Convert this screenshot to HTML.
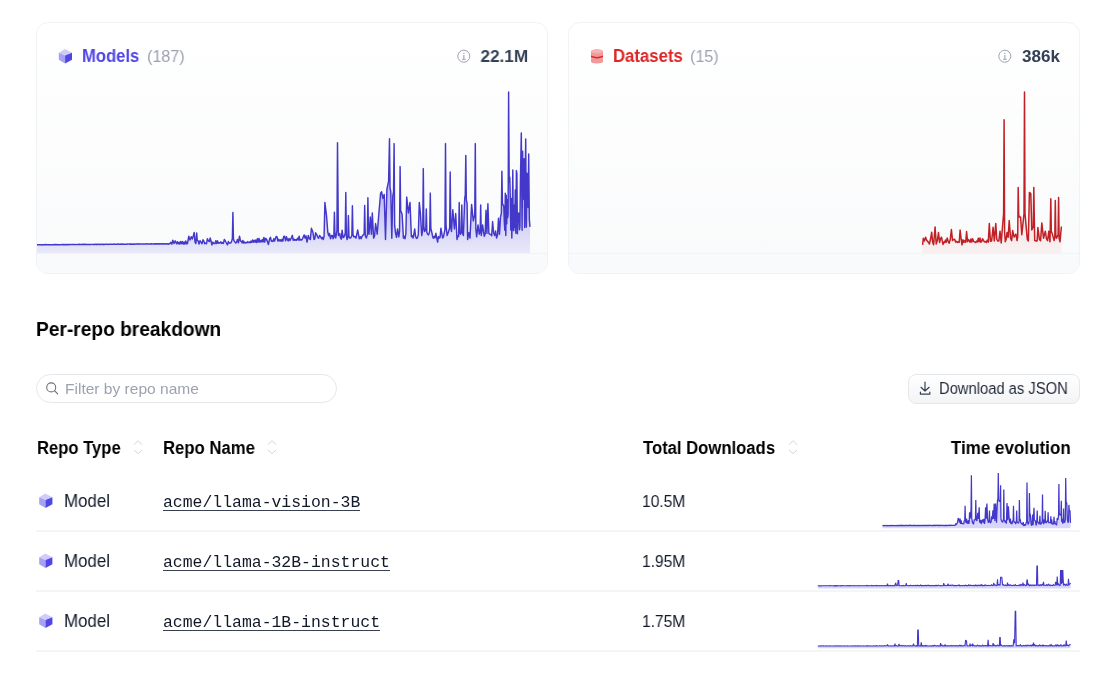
<!DOCTYPE html>
<html>
<head>
<meta charset="utf-8">
<style>
html,body{margin:0;padding:0;background:#fff;}
body{width:1120px;height:680px;position:relative;overflow:hidden;font-family:"Liberation Sans",sans-serif;color:#111827;}
.a{position:absolute;white-space:nowrap;line-height:1;will-change:transform;}
.card{position:absolute;top:22px;width:510px;height:250px;border:1px solid #f1f2f5;border-radius:12px;
 background:linear-gradient(180deg,#ffffff 0%,#f9fafb 100%);overflow:hidden;}
.strip{position:absolute;left:0;right:0;top:230px;bottom:0;border-top:1px solid #f2f3f5;background:#f9fafb;}
.b{font-weight:bold;}
.sep{position:absolute;left:36px;width:1044px;height:2px;background:#f4f5f5;}
.mono{font-family:"Liberation Mono",monospace;}
svg{position:absolute;left:0;top:0;overflow:visible;}
</style>
</head>
<body>

<!-- Models card -->
<div class="card" style="left:36px;">
  <div class="strip"></div>
</div>
<!-- Datasets card -->
<div class="card" style="left:568px;">
  <div class="strip"></div>
</div>

<svg width="1120" height="680" viewBox="0 0 1120 680">
  <defs>
    <linearGradient id="gm" x1="0" y1="90" x2="0" y2="253" gradientUnits="userSpaceOnUse">
      <stop offset="0" stop-color="#4f46e5" stop-opacity="0.8"/>
      <stop offset="1" stop-color="#4f46e5" stop-opacity="0.1"/>
    </linearGradient>
    <linearGradient id="gd" x1="0" y1="90" x2="0" y2="253" gradientUnits="userSpaceOnUse">
      <stop offset="0" stop-color="#dc2626" stop-opacity="0.22"/>
      <stop offset="1" stop-color="#dc2626" stop-opacity="0.05"/>
    </linearGradient>
    <linearGradient id="gr" x1="0" y1="0" x2="0" y2="1">
      <stop offset="0" stop-color="#4f46e5" stop-opacity="0.30"/>
      <stop offset="1" stop-color="#4f46e5" stop-opacity="0.22"/>
    </linearGradient>
  </defs>
  <path d="M37 244.8 L37.8 244.69 L38.6 244.92 L39.4 244.63 L40.2 244.95 L41.01 244.63 L41.81 244.93 L42.61 244.76 L43.41 244.84 L44.21 244.56 L45.01 244.86 L45.81 244.55 L46.61 244.75 L47.42 244.64 L48.22 244.76 L49.02 244.61 L49.82 244.81 L50.62 244.7 L51.42 244.73 L52.22 244.65 L53.02 244.84 L53.83 244.52 L54.63 244.7 L55.43 244.5 L56.23 244.68 L57.03 244.53 L57.83 244.67 L58.63 244.64 L59.43 244.79 L60.23 244.6 L61.04 244.66 L61.84 244.4 L62.64 244.76 L63.44 244.56 L64.24 244.77 L65.04 244.49 L65.84 244.71 L66.64 244.55 L67.45 244.74 L68.25 244.43 L69.05 244.73 L69.85 244.36 L70.65 244.6 L71.45 244.48 L72.25 244.56 L73.05 244.51 L73.86 244.53 L74.66 244.47 L75.46 244.62 L76.26 244.5 L77.06 244.62 L77.86 244.44 L78.66 244.54 L79.46 244.3 L80.27 244.56 L81.07 244.42 L81.87 244.55 L82.67 244.31 L83.47 244.46 L84.27 244.22 L85.07 244.44 L85.87 244.27 L86.67 244.58 L87.48 244.42 L88.28 244.56 L89.08 244.34 L89.88 244.51 L90.68 244.4 L91.48 244.4 L92.28 244.36 L93.08 244.55 L93.89 244.34 L94.69 244.5 L95.49 244.14 L96.29 244.52 L97.09 244.29 L97.89 244.41 L98.69 244.23 L99.49 244.47 L100.3 244.31 L101.1 244.45 L101.9 244.13 L102.7 244.46 L103.5 244.3 L104.3 244.46 L105.1 244.28 L105.9 244.34 L106.7 244.14 L107.51 244.44 L108.31 244.2 L109.11 244.42 L109.91 244.14 L110.71 244.3 L111.51 244.18 L112.31 244.27 L113.11 244.22 L113.92 244.25 L114.72 244.06 L115.52 244.39 L116.32 244.18 L117.12 244.21 L117.92 243.93 L118.72 244.28 L119.52 244.1 L120.33 244.22 L121.13 244.03 L121.93 244.31 L122.73 244.06 L123.53 244.23 L124.33 244.14 L125.13 244.3 L125.93 244.13 L126.73 244.21 L127.54 243.91 L128.34 244.14 L129.14 243.93 L129.94 244.27 L130.74 243.95 L131.54 244.23 L132.34 244.07 L133.14 244.16 L133.95 244.05 L134.75 244.22 L135.55 244 L136.35 244.13 L137.15 243.77 L137.95 244.19 L138.75 243.77 L139.55 244.11 L140.36 243.91 L141.16 244.15 L141.96 243.9 L142.76 244.06 L143.56 243.91 L144.36 244.02 L145.16 243.91 L145.96 244.16 L146.77 243.71 L147.57 244.08 L148.37 243.85 L149.17 244.02 L149.97 243.94 L150.77 243.99 L151.57 243.73 L152.37 244.09 L153.17 243.85 L153.98 244.06 L154.78 243.71 L155.58 244.03 L156.38 243.73 L157.18 244.03 L157.98 243.81 L158.78 244.01 L159.58 243.82 L160.39 243.96 L161.19 243.66 L161.99 243.98 L162.79 243.79 L163.59 244.02 L164.39 243.67 L165.19 243.94 L165.99 243.83 L166.8 243.92 L167.6 243.77 L168.4 244.22 L169.2 243.45 L170 243.7 L170.93 242.32 L171.87 244.16 L172.8 240.2 L174 243.5 L175.2 240.8 L176.5 243.8 L177.35 241.74 L178.19 243.89 L179.04 242.17 L179.88 244.1 L180.73 241.54 L181.58 243.84 L182.42 241.44 L183.27 244.13 L184.12 241.9 L184.96 244.17 L185.81 240.93 L186.65 243.87 L187.5 243.5 L188.8 236.2 L190 240 L191.3 236.7 L192.3 239 L193.4 235.4 L194.2 232.5 L195.03 242.13 L195.87 243.53 L196.7 233 L197.2 240.4 L198.13 240.96 L199.07 243.95 L200 240.8 L201 242.16 L202 243.76 L203 239.8 L203.88 241.23 L204.76 243.74 L205.64 242.96 L206.52 243.75 L207.4 238.7 L208.5 241 L209.35 241.6 L210.2 238 L211.05 241.23 L211.9 244.9 L212.93 242.08 L213.97 243.55 L215 243.5 L215.83 240.66 L216.67 243.52 L217.5 240.83 L218.33 243.13 L219.17 242.77 L220 243 L220.86 241.84 L221.72 243.45 L222.58 242.55 L223.44 243.45 L224.3 239.4 L225.37 240.99 L226.43 243.02 L227.5 244.9 L228.34 241.56 L229.18 243.09 L230.02 242.86 L230.86 243.01 L231.7 241 L232.35 238.71 L232.9 212.4 L233.45 238.71 L234.1 241 L234.93 242 L235.75 242.97 L236.57 242.39 L237.4 239.5 L238.45 242.77 L239.5 236.2 L240.5 241 L241.31 241.25 L242.11 242.92 L242.92 240.51 L243.73 242.96 L244.53 241.94 L245.34 243.07 L246.15 242.49 L246.95 242.69 L247.76 241.62 L248.56 242.61 L249.37 242.07 L250.18 242.78 L250.98 241.08 L251.79 242.22 L252.6 239.93 L253.4 242.18 L254.21 240.15 L255.02 242.24 L255.82 239.89 L256.63 242.53 L257.44 238.61 L258.24 242.13 L259.05 238.53 L259.85 242.18 L260.66 240.56 L261.47 241.8 L262.27 239.44 L263.08 241.97 L263.89 237.43 L264.69 242.13 L265.5 238.4 L266.47 239.13 L267.43 241.62 L268.4 244.6 L269.7 238.4 L270.51 237.36 L271.32 241.21 L272.14 240.92 L272.95 241.47 L273.76 238.66 L274.57 241.13 L275.39 238.49 L276.2 236.4 L277.03 236.94 L277.87 241.1 L278.7 239.28 L279.53 240.93 L280.37 239.81 L281.2 241.29 L282.03 239.33 L282.87 241.2 L283.7 236.4 L284.63 236.32 L285.57 240.84 L286.5 236.8 L287.33 239.57 L288.17 240.94 L289 238.37 L289.83 240.52 L290.67 239.13 L291.5 237.6 L292.35 235.37 L293.2 240.39 L294.05 239.09 L294.9 240.3 L295.75 239.65 L296.6 240.3 L297.45 238.16 L298.3 240.02 L299.15 236.18 L300 240.25 L300.85 239.69 L301.7 239.99 L302.55 238.7 L303.4 236.4 L304.2 234.96 L305 238.1 L306 235.85 L307 242.1 L308.3 235.5 L309.33 238.62 L310.37 239.57 L311.4 228.2 L312.9 232.2 L314 239.5 L314.8 238.89 L315.6 232.8 L316.6 234.38 L317.6 236.8 L318.6 238.26 L319.6 235.5 L320.6 236.62 L321.6 238.8 L322.43 237.31 L323.25 239.58 L324.07 236.59 L324.9 202.4 L326.5 215.6 L327.8 232.2 L328.65 235.7 L329.5 233.5 L330.5 238.76 L331.5 235.5 L332.3 235.54 L333.1 238.8 L333.85 236.68 L334.4 212.3 L334.95 236.04 L335.7 238.1 L336.95 230.48 L337.5 142.8 L338.4 235.5 L339.7 233.5 L340.5 237.86 L341.3 239.22 L342.1 230.2 L343.1 237.65 L344.1 236.8 L345.25 233.26 L345.8 192.5 L346.35 235.74 L347.1 239.5 L347.85 237.59 L348.4 215.6 L348.95 236.3 L349.8 238.1 L350.82 237.71 L351.85 235.51 L352.4 205.7 L352.95 234.31 L353.7 236.8 L354.85 236.48 L356 238.1 L357.7 230 L359.3 238.8 L360.2 236.74 L361.1 238.78 L362 236.2 L363.07 235.12 L364.15 233.74 L364.7 205.5 L365.25 235.49 L366.3 238.1 L367.35 234.87 L367.9 197.7 L368.45 231.28 L369 234.2 L370.3 217 L371.4 234.2 L372.3 213 L373.6 238.1 L374.6 235.87 L375.6 223.6 L377.2 234.2 L378.9 213 L380.6 193.1 L381.6 191.8 L382.9 198.4 L384.2 194.4 L385.5 239.5 L386.9 189.1 L388.6 181.2 L389.5 138.8 L390.05 187.56 L390.8 191.8 L391.8 238.21 L392.8 195.8 L393.55 191.62 L394.1 143.6 L394.65 225.66 L395.5 232.8 L396.5 237.37 L397.5 228.9 L398.8 236.8 L399.55 231.18 L400.1 166.6 L400.65 210.48 L402.1 214.3 L403.4 238.1 L404.22 236.29 L405.05 238.72 L405.88 233.66 L406.7 197.1 L408.4 213 L410 202.4 L411.4 236.8 L412.22 235.7 L413.05 238.11 L413.88 234.27 L414.7 228.9 L415.57 236.32 L416.43 238.42 L417.3 238.1 L418.3 234.66 L419.3 202.4 L420.4 213 L421.7 235.5 L422.75 230.15 L423.3 168.6 L423.85 226.47 L424.6 231.5 L425.75 229.7 L426.3 209 L426.85 232.18 L427.6 234.2 L428.68 234.93 L429.75 230.91 L430.3 193.1 L430.85 228.43 L431.6 231.5 L432.46 235.7 L433.31 238.32 L434.17 236.18 L435.03 237.96 L435.89 233.29 L436.74 237.8 L437.6 242.1 L438.43 236.51 L439.25 238.11 L440.07 237.43 L440.9 228.2 L441.77 233.21 L442.63 237.94 L443.5 236.8 L444.95 229.34 L445.5 143.6 L446.05 225.66 L447.12 235.55 L448.2 232.8 L449.65 227.93 L450.2 171.9 L450.75 226.73 L451.5 231.5 L452.8 209.7 L454.4 228.9 L455.7 213.6 L457 239.5 L457.82 236.01 L458.65 236.53 L459.2 202.4 L459.75 231.66 L460.5 234.2 L461.25 231.86 L461.8 205 L462.35 233.06 L463.4 235.5 L464.7 198.4 L465.25 194.97 L465.8 155.5 L466.35 199.84 L467.1 203.7 L467.6 239.5 L468.8 232.73 L470 238.1 L471.6 204.4 L473.3 220.9 L474.75 214.72 L475.3 143.6 L475.85 229.34 L476.7 236.8 L478 224.9 L479.3 234.2 L480.15 231.86 L480.7 205 L481.3 235.5 L482.6 224.9 L483.45 231.2 L484.3 236.28 L485.15 233.94 L486 210.3 L486.95 233.38 L487.9 203.7 L488.9 233.56 L489.9 234.2 L490.8 234.38 L491.7 235.77 L492.6 221.6 L493.6 232.66 L494.6 235.5 L495.6 230.99 L496.6 238.1 L497.55 235.09 L498.5 218.3 L499.5 234.27 L500.5 217 L501.35 213.34 L501.9 171.3 L502.45 203.59 L503.8 206.4 L504.3 221.43 L504.8 230.25 L505.3 193.16 L505.8 235.5 L506.27 195.18 L506.73 223.77 L507.2 199.7 L507.67 217.71 L508.13 214.12 L508.6 91.9 L509.2 182.19 L509.8 177.2 L510.3 198.84 L510.8 230 L511.3 198.54 L511.8 238.1 L512.3 214.94 L512.8 170 L513.27 229.79 L513.75 230.67 L514.23 205.28 L514.7 227.5 L515.27 190.09 L515.83 233.3 L516.4 170.6 L516.9 173.97 L517.4 233.83 L517.9 213.26 L518.4 222.3 L518.9 212.88 L519.4 229.85 L519.9 226.82 L520.4 182.5 L521.3 133 L522.1 230.2 L522.63 151.11 L523.17 199.16 L523.7 197 L524.2 158.77 L524.7 227.57 L525.2 178.95 L525.7 139 L526.35 227.12 L527 173.2 L527.57 201.58 L528.13 207.52 L528.7 154 L529.35 219.69 L530 226.9 L530 253 L37 253 Z" fill="url(#gm)"/>
  <path d="M37 244.8 L37.8 244.69 L38.6 244.92 L39.4 244.63 L40.2 244.95 L41.01 244.63 L41.81 244.93 L42.61 244.76 L43.41 244.84 L44.21 244.56 L45.01 244.86 L45.81 244.55 L46.61 244.75 L47.42 244.64 L48.22 244.76 L49.02 244.61 L49.82 244.81 L50.62 244.7 L51.42 244.73 L52.22 244.65 L53.02 244.84 L53.83 244.52 L54.63 244.7 L55.43 244.5 L56.23 244.68 L57.03 244.53 L57.83 244.67 L58.63 244.64 L59.43 244.79 L60.23 244.6 L61.04 244.66 L61.84 244.4 L62.64 244.76 L63.44 244.56 L64.24 244.77 L65.04 244.49 L65.84 244.71 L66.64 244.55 L67.45 244.74 L68.25 244.43 L69.05 244.73 L69.85 244.36 L70.65 244.6 L71.45 244.48 L72.25 244.56 L73.05 244.51 L73.86 244.53 L74.66 244.47 L75.46 244.62 L76.26 244.5 L77.06 244.62 L77.86 244.44 L78.66 244.54 L79.46 244.3 L80.27 244.56 L81.07 244.42 L81.87 244.55 L82.67 244.31 L83.47 244.46 L84.27 244.22 L85.07 244.44 L85.87 244.27 L86.67 244.58 L87.48 244.42 L88.28 244.56 L89.08 244.34 L89.88 244.51 L90.68 244.4 L91.48 244.4 L92.28 244.36 L93.08 244.55 L93.89 244.34 L94.69 244.5 L95.49 244.14 L96.29 244.52 L97.09 244.29 L97.89 244.41 L98.69 244.23 L99.49 244.47 L100.3 244.31 L101.1 244.45 L101.9 244.13 L102.7 244.46 L103.5 244.3 L104.3 244.46 L105.1 244.28 L105.9 244.34 L106.7 244.14 L107.51 244.44 L108.31 244.2 L109.11 244.42 L109.91 244.14 L110.71 244.3 L111.51 244.18 L112.31 244.27 L113.11 244.22 L113.92 244.25 L114.72 244.06 L115.52 244.39 L116.32 244.18 L117.12 244.21 L117.92 243.93 L118.72 244.28 L119.52 244.1 L120.33 244.22 L121.13 244.03 L121.93 244.31 L122.73 244.06 L123.53 244.23 L124.33 244.14 L125.13 244.3 L125.93 244.13 L126.73 244.21 L127.54 243.91 L128.34 244.14 L129.14 243.93 L129.94 244.27 L130.74 243.95 L131.54 244.23 L132.34 244.07 L133.14 244.16 L133.95 244.05 L134.75 244.22 L135.55 244 L136.35 244.13 L137.15 243.77 L137.95 244.19 L138.75 243.77 L139.55 244.11 L140.36 243.91 L141.16 244.15 L141.96 243.9 L142.76 244.06 L143.56 243.91 L144.36 244.02 L145.16 243.91 L145.96 244.16 L146.77 243.71 L147.57 244.08 L148.37 243.85 L149.17 244.02 L149.97 243.94 L150.77 243.99 L151.57 243.73 L152.37 244.09 L153.17 243.85 L153.98 244.06 L154.78 243.71 L155.58 244.03 L156.38 243.73 L157.18 244.03 L157.98 243.81 L158.78 244.01 L159.58 243.82 L160.39 243.96 L161.19 243.66 L161.99 243.98 L162.79 243.79 L163.59 244.02 L164.39 243.67 L165.19 243.94 L165.99 243.83 L166.8 243.92 L167.6 243.77 L168.4 244.22 L169.2 243.45 L170 243.7 L170.93 242.32 L171.87 244.16 L172.8 240.2 L174 243.5 L175.2 240.8 L176.5 243.8 L177.35 241.74 L178.19 243.89 L179.04 242.17 L179.88 244.1 L180.73 241.54 L181.58 243.84 L182.42 241.44 L183.27 244.13 L184.12 241.9 L184.96 244.17 L185.81 240.93 L186.65 243.87 L187.5 243.5 L188.8 236.2 L190 240 L191.3 236.7 L192.3 239 L193.4 235.4 L194.2 232.5 L195.03 242.13 L195.87 243.53 L196.7 233 L197.2 240.4 L198.13 240.96 L199.07 243.95 L200 240.8 L201 242.16 L202 243.76 L203 239.8 L203.88 241.23 L204.76 243.74 L205.64 242.96 L206.52 243.75 L207.4 238.7 L208.5 241 L209.35 241.6 L210.2 238 L211.05 241.23 L211.9 244.9 L212.93 242.08 L213.97 243.55 L215 243.5 L215.83 240.66 L216.67 243.52 L217.5 240.83 L218.33 243.13 L219.17 242.77 L220 243 L220.86 241.84 L221.72 243.45 L222.58 242.55 L223.44 243.45 L224.3 239.4 L225.37 240.99 L226.43 243.02 L227.5 244.9 L228.34 241.56 L229.18 243.09 L230.02 242.86 L230.86 243.01 L231.7 241 L232.35 238.71 L232.9 212.4 L233.45 238.71 L234.1 241 L234.93 242 L235.75 242.97 L236.57 242.39 L237.4 239.5 L238.45 242.77 L239.5 236.2 L240.5 241 L241.31 241.25 L242.11 242.92 L242.92 240.51 L243.73 242.96 L244.53 241.94 L245.34 243.07 L246.15 242.49 L246.95 242.69 L247.76 241.62 L248.56 242.61 L249.37 242.07 L250.18 242.78 L250.98 241.08 L251.79 242.22 L252.6 239.93 L253.4 242.18 L254.21 240.15 L255.02 242.24 L255.82 239.89 L256.63 242.53 L257.44 238.61 L258.24 242.13 L259.05 238.53 L259.85 242.18 L260.66 240.56 L261.47 241.8 L262.27 239.44 L263.08 241.97 L263.89 237.43 L264.69 242.13 L265.5 238.4 L266.47 239.13 L267.43 241.62 L268.4 244.6 L269.7 238.4 L270.51 237.36 L271.32 241.21 L272.14 240.92 L272.95 241.47 L273.76 238.66 L274.57 241.13 L275.39 238.49 L276.2 236.4 L277.03 236.94 L277.87 241.1 L278.7 239.28 L279.53 240.93 L280.37 239.81 L281.2 241.29 L282.03 239.33 L282.87 241.2 L283.7 236.4 L284.63 236.32 L285.57 240.84 L286.5 236.8 L287.33 239.57 L288.17 240.94 L289 238.37 L289.83 240.52 L290.67 239.13 L291.5 237.6 L292.35 235.37 L293.2 240.39 L294.05 239.09 L294.9 240.3 L295.75 239.65 L296.6 240.3 L297.45 238.16 L298.3 240.02 L299.15 236.18 L300 240.25 L300.85 239.69 L301.7 239.99 L302.55 238.7 L303.4 236.4 L304.2 234.96 L305 238.1 L306 235.85 L307 242.1 L308.3 235.5 L309.33 238.62 L310.37 239.57 L311.4 228.2 L312.9 232.2 L314 239.5 L314.8 238.89 L315.6 232.8 L316.6 234.38 L317.6 236.8 L318.6 238.26 L319.6 235.5 L320.6 236.62 L321.6 238.8 L322.43 237.31 L323.25 239.58 L324.07 236.59 L324.9 202.4 L326.5 215.6 L327.8 232.2 L328.65 235.7 L329.5 233.5 L330.5 238.76 L331.5 235.5 L332.3 235.54 L333.1 238.8 L333.85 236.68 L334.4 212.3 L334.95 236.04 L335.7 238.1 L336.95 230.48 L337.5 142.8 L338.4 235.5 L339.7 233.5 L340.5 237.86 L341.3 239.22 L342.1 230.2 L343.1 237.65 L344.1 236.8 L345.25 233.26 L345.8 192.5 L346.35 235.74 L347.1 239.5 L347.85 237.59 L348.4 215.6 L348.95 236.3 L349.8 238.1 L350.82 237.71 L351.85 235.51 L352.4 205.7 L352.95 234.31 L353.7 236.8 L354.85 236.48 L356 238.1 L357.7 230 L359.3 238.8 L360.2 236.74 L361.1 238.78 L362 236.2 L363.07 235.12 L364.15 233.74 L364.7 205.5 L365.25 235.49 L366.3 238.1 L367.35 234.87 L367.9 197.7 L368.45 231.28 L369 234.2 L370.3 217 L371.4 234.2 L372.3 213 L373.6 238.1 L374.6 235.87 L375.6 223.6 L377.2 234.2 L378.9 213 L380.6 193.1 L381.6 191.8 L382.9 198.4 L384.2 194.4 L385.5 239.5 L386.9 189.1 L388.6 181.2 L389.5 138.8 L390.05 187.56 L390.8 191.8 L391.8 238.21 L392.8 195.8 L393.55 191.62 L394.1 143.6 L394.65 225.66 L395.5 232.8 L396.5 237.37 L397.5 228.9 L398.8 236.8 L399.55 231.18 L400.1 166.6 L400.65 210.48 L402.1 214.3 L403.4 238.1 L404.22 236.29 L405.05 238.72 L405.88 233.66 L406.7 197.1 L408.4 213 L410 202.4 L411.4 236.8 L412.22 235.7 L413.05 238.11 L413.88 234.27 L414.7 228.9 L415.57 236.32 L416.43 238.42 L417.3 238.1 L418.3 234.66 L419.3 202.4 L420.4 213 L421.7 235.5 L422.75 230.15 L423.3 168.6 L423.85 226.47 L424.6 231.5 L425.75 229.7 L426.3 209 L426.85 232.18 L427.6 234.2 L428.68 234.93 L429.75 230.91 L430.3 193.1 L430.85 228.43 L431.6 231.5 L432.46 235.7 L433.31 238.32 L434.17 236.18 L435.03 237.96 L435.89 233.29 L436.74 237.8 L437.6 242.1 L438.43 236.51 L439.25 238.11 L440.07 237.43 L440.9 228.2 L441.77 233.21 L442.63 237.94 L443.5 236.8 L444.95 229.34 L445.5 143.6 L446.05 225.66 L447.12 235.55 L448.2 232.8 L449.65 227.93 L450.2 171.9 L450.75 226.73 L451.5 231.5 L452.8 209.7 L454.4 228.9 L455.7 213.6 L457 239.5 L457.82 236.01 L458.65 236.53 L459.2 202.4 L459.75 231.66 L460.5 234.2 L461.25 231.86 L461.8 205 L462.35 233.06 L463.4 235.5 L464.7 198.4 L465.25 194.97 L465.8 155.5 L466.35 199.84 L467.1 203.7 L467.6 239.5 L468.8 232.73 L470 238.1 L471.6 204.4 L473.3 220.9 L474.75 214.72 L475.3 143.6 L475.85 229.34 L476.7 236.8 L478 224.9 L479.3 234.2 L480.15 231.86 L480.7 205 L481.3 235.5 L482.6 224.9 L483.45 231.2 L484.3 236.28 L485.15 233.94 L486 210.3 L486.95 233.38 L487.9 203.7 L488.9 233.56 L489.9 234.2 L490.8 234.38 L491.7 235.77 L492.6 221.6 L493.6 232.66 L494.6 235.5 L495.6 230.99 L496.6 238.1 L497.55 235.09 L498.5 218.3 L499.5 234.27 L500.5 217 L501.35 213.34 L501.9 171.3 L502.45 203.59 L503.8 206.4 L504.3 221.43 L504.8 230.25 L505.3 193.16 L505.8 235.5 L506.27 195.18 L506.73 223.77 L507.2 199.7 L507.67 217.71 L508.13 214.12 L508.6 91.9 L509.2 182.19 L509.8 177.2 L510.3 198.84 L510.8 230 L511.3 198.54 L511.8 238.1 L512.3 214.94 L512.8 170 L513.27 229.79 L513.75 230.67 L514.23 205.28 L514.7 227.5 L515.27 190.09 L515.83 233.3 L516.4 170.6 L516.9 173.97 L517.4 233.83 L517.9 213.26 L518.4 222.3 L518.9 212.88 L519.4 229.85 L519.9 226.82 L520.4 182.5 L521.3 133 L522.1 230.2 L522.63 151.11 L523.17 199.16 L523.7 197 L524.2 158.77 L524.7 227.57 L525.2 178.95 L525.7 139 L526.35 227.12 L527 173.2 L527.57 201.58 L528.13 207.52 L528.7 154 L529.35 219.69 L530 226.9" fill="none" stroke="#4338ca" stroke-width="1.45" stroke-linejoin="round"/>
  <path d="M922.6 244.8 L923.3 238.3 L924.45 240.99 L925.6 237.2 L926.7 240.2 L927.6 241.3 L928.5 242.49 L929.4 244 L930.55 239.01 L931.7 232.2 L932.65 242.34 L933.6 244.8 L935.1 226.9 L936.2 244 L937.35 240.6 L938.5 232.6 L939.6 242.5 L940.55 238.64 L941.5 237.2 L943 244.4 L943.84 242.03 L944.68 242.51 L945.52 239.94 L946.36 242.18 L947.2 237.9 L948.15 240.94 L949.1 243.2 L950.25 239.44 L951.4 229.6 L952.55 240.56 L953.7 239.5 L954.65 239.25 L955.6 242.11 L956.55 241.35 L957.5 242.5 L958.37 241.74 L959.23 242.27 L960.1 230 L961.05 238.08 L962 244.8 L962.92 239.75 L963.84 242.37 L964.76 240.65 L965.68 242.32 L966.6 231.5 L967.55 241.63 L968.5 239.5 L969.32 240.95 L970.14 242.22 L970.96 238.93 L971.78 242.04 L972.6 238.7 L973.63 241.58 L974.67 241.91 L975.7 242.5 L976.55 241.14 L977.4 241.88 L978.25 238.35 L979.1 241.8 L979.95 237.9 L980.8 242.19 L981.65 241.55 L982.5 238.7 L983.45 240.37 L984.4 241.9 L985.35 241.56 L986.3 242.5 L987.3 240.1 L988.3 242.1 L989.3 223.5 L990.45 241.26 L991.6 241 L993.1 227.3 L994.3 241 L995.8 223.5 L996.75 239.11 L997.7 241 L998.85 241.11 L1000 231.2 L1001.2 243 L1002.9 221.8 L1003.6 213.63 L1004.1 119.7 L1004.6 232.03 L1005.3 241.8 L1006.2 239.04 L1007.1 232.4 L1008.15 237.27 L1009.2 220.6 L1010.6 238.2 L1011.65 240.64 L1012.7 230.6 L1014.1 237.1 L1015.9 234.1 L1017.1 240.6 L1017.7 236.36 L1018.2 187.6 L1018.7 214.74 L1019.4 217.1 L1020.6 217.1 L1021.8 234.7 L1022.9 224.1 L1024 213.52 L1024.5 91.9 L1025 213.52 L1025.9 224.1 L1027.3 239.4 L1028.35 240.97 L1029.4 192.4 L1030.8 193.5 L1031.8 230 L1033.3 226.61 L1033.8 187.6 L1034.7 240.6 L1035.5 240.69 L1036.3 241.19 L1037.1 240.83 L1037.9 227.6 L1039.4 239.4 L1040.6 240.61 L1041.8 222.9 L1043.5 238.2 L1045.3 231.2 L1046.45 238.75 L1047.6 240.6 L1048.8 231.2 L1050 241.8 L1050.8 198.8 L1051.3 231.28 L1052.4 234.1 L1054.1 240.6 L1054.8 237.4 L1055.3 200.6 L1055.8 235.19 L1056.5 238.2 L1058.1 234.95 L1058.6 197.6 L1059.1 238.26 L1060 241.8 L1061.4 226.5 L1061.4 253 L922.6 253 Z" fill="url(#gd)"/>
  <path d="M922.6 244.8 L923.3 238.3 L924.45 240.99 L925.6 237.2 L926.7 240.2 L927.6 241.3 L928.5 242.49 L929.4 244 L930.55 239.01 L931.7 232.2 L932.65 242.34 L933.6 244.8 L935.1 226.9 L936.2 244 L937.35 240.6 L938.5 232.6 L939.6 242.5 L940.55 238.64 L941.5 237.2 L943 244.4 L943.84 242.03 L944.68 242.51 L945.52 239.94 L946.36 242.18 L947.2 237.9 L948.15 240.94 L949.1 243.2 L950.25 239.44 L951.4 229.6 L952.55 240.56 L953.7 239.5 L954.65 239.25 L955.6 242.11 L956.55 241.35 L957.5 242.5 L958.37 241.74 L959.23 242.27 L960.1 230 L961.05 238.08 L962 244.8 L962.92 239.75 L963.84 242.37 L964.76 240.65 L965.68 242.32 L966.6 231.5 L967.55 241.63 L968.5 239.5 L969.32 240.95 L970.14 242.22 L970.96 238.93 L971.78 242.04 L972.6 238.7 L973.63 241.58 L974.67 241.91 L975.7 242.5 L976.55 241.14 L977.4 241.88 L978.25 238.35 L979.1 241.8 L979.95 237.9 L980.8 242.19 L981.65 241.55 L982.5 238.7 L983.45 240.37 L984.4 241.9 L985.35 241.56 L986.3 242.5 L987.3 240.1 L988.3 242.1 L989.3 223.5 L990.45 241.26 L991.6 241 L993.1 227.3 L994.3 241 L995.8 223.5 L996.75 239.11 L997.7 241 L998.85 241.11 L1000 231.2 L1001.2 243 L1002.9 221.8 L1003.6 213.63 L1004.1 119.7 L1004.6 232.03 L1005.3 241.8 L1006.2 239.04 L1007.1 232.4 L1008.15 237.27 L1009.2 220.6 L1010.6 238.2 L1011.65 240.64 L1012.7 230.6 L1014.1 237.1 L1015.9 234.1 L1017.1 240.6 L1017.7 236.36 L1018.2 187.6 L1018.7 214.74 L1019.4 217.1 L1020.6 217.1 L1021.8 234.7 L1022.9 224.1 L1024 213.52 L1024.5 91.9 L1025 213.52 L1025.9 224.1 L1027.3 239.4 L1028.35 240.97 L1029.4 192.4 L1030.8 193.5 L1031.8 230 L1033.3 226.61 L1033.8 187.6 L1034.7 240.6 L1035.5 240.69 L1036.3 241.19 L1037.1 240.83 L1037.9 227.6 L1039.4 239.4 L1040.6 240.61 L1041.8 222.9 L1043.5 238.2 L1045.3 231.2 L1046.45 238.75 L1047.6 240.6 L1048.8 231.2 L1050 241.8 L1050.8 198.8 L1051.3 231.28 L1052.4 234.1 L1054.1 240.6 L1054.8 237.4 L1055.3 200.6 L1055.8 235.19 L1056.5 238.2 L1058.1 234.95 L1058.6 197.6 L1059.1 238.26 L1060 241.8 L1061.4 226.5" fill="none" stroke="#c02126" stroke-width="1.5" stroke-linejoin="round"/>

  <path d="M882.5 525.4 L883 525.53 L883.5 525.7 L884 525.41 L884.5 525.68 L885 525.51 L885.5 525.7 L886 525.57 L886.5 525.68 L887 525.47 L887.5 525.73 L888 525.57 L888.5 525.64 L889 525.57 L889.5 525.73 L890 525.45 L890.5 525.58 L891 525.37 L891.5 525.75 L892 525.45 L892.5 525.68 L893 525.55 L893.5 525.57 L894 525.47 L894.5 525.58 L895 525.54 L895.5 525.61 L896 525.56 L896.5 525.64 L897 525.48 L897.5 525.71 L898 525.46 L898.5 525.67 L899 525.46 L899.5 525.67 L900 525.47 L900.5 525.6 L901 525.32 L901.5 525.73 L902 525.36 L902.5 525.67 L903 525.49 L903.5 525.58 L904 525.49 L904.5 525.55 L905 525.37 L905.5 525.61 L906 525.35 L906.5 525.6 L907 525.31 L907.5 525.68 L908 525.53 L908.5 525.57 L909 525.32 L909.5 525.61 L910 525.29 L910.5 525.59 L911 525.51 L911.5 525.63 L912 525.34 L912.5 525.56 L913 525.5 L913.5 525.57 L914 525.28 L914.5 525.65 L915 525.49 L915.5 525.55 L916 525.49 L916.5 525.52 L917 525.32 L917.5 525.53 L918 525.38 L918.5 525.58 L919 525.47 L919.5 525.63 L920 525.48 L920.5 525.61 L921 525.48 L921.5 525.57 L922 525.46 L922.5 525.54 L923 525.24 L923.5 525.63 L924 525.43 L924.5 525.64 L925 525.45 L925.5 525.55 L926 525.27 L926.5 525.59 L927 525.46 L927.5 525.65 L928 525.44 L928.5 525.52 L929 525.28 L929.5 525.53 L930 525.41 L930.5 525.48 L931 525.45 L931.5 525.57 L932 525.42 L932.5 525.57 L933 525.39 L933.5 525.54 L934 525.2 L934.5 525.54 L935 525.32 L935.5 525.61 L936 525.42 L936.5 525.48 L937 525.21 L937.5 525.6 L938 525.4 L938.5 525.48 L939 525.26 L939.5 525.61 L940 525.41 L940.5 525.61 L941 525.2 L941.5 525.55 L942 525.34 L942.5 525.45 L943 525.43 L943.5 525.6 L944 525.39 L944.5 525.56 L945 525.38 L945.5 525.57 L946 525.28 L946.5 525.48 L947 525.39 L947.5 525.55 L948 525.41 L948.5 525.46 L949 525.28 L949.5 525.57 L950 525.26 L950.5 525.46 L951 525.15 L951.5 525.45 L952 525.41 L952.5 525.46 L953 525.3 L953.5 525.41 L954 525.37 L954.5 525.47 L955 525.4 L955.63 523.96 L956.27 524.34 L956.9 523.6 L957.55 522.26 L958.2 518.1 L958.9 519.27 L959.6 522.7 L960.12 518.67 L960.63 523.99 L961.14 520.46 L961.66 523.95 L962.17 523.2 L962.69 523.62 L963.21 523.57 L963.72 524.15 L964.24 520.37 L964.75 521.35 L965.1 505.8 L965.45 521.35 L966.1 522.7 L966.6 518.68 L967.1 523.61 L967.6 520.72 L968.1 523.89 L968.6 520.14 L969.1 523.79 L969.6 512.2 L970.33 518.37 L971.05 509.25 L971.4 475.3 L971.75 518.08 L972.3 521.8 L972.93 523.42 L973.57 523.93 L974.2 520 L974.83 520.03 L975.45 518.39 L975.8 499.9 L976.15 519.22 L976.9 520.9 L977.8 512.7 L978.33 518.91 L978.85 512.26 L979.2 507.2 L979.55 521.46 L980.1 522.7 L980.7 519.96 L981.3 524.02 L981.9 520.9 L982.6 519.57 L983.3 522.7 L983.88 518.73 L984.45 523.81 L985.02 520.24 L985.6 507.2 L986.25 518.79 L986.9 503.6 L987.6 518.97 L988.3 522.7 L989.15 521.72 L989.5 510.4 L989.85 521.72 L990.6 522.7 L991.15 521.8 L991.7 516.3 L992.3 519.46 L992.9 510.4 L993.55 518.94 L994.2 503.6 L994.9 520.85 L995.6 503.6 L996.5 522.7 L997.4 500.8 L997.95 498.58 L998.3 473 L998.65 499.4 L999.5 501.7 L1000.25 500.39 L1000.6 485.3 L1000.95 518.88 L1001.48 520.46 L1002 521.8 L1002.72 521.94 L1003.45 519.21 L1003.8 489.4 L1004.15 520.04 L1004.67 520.71 L1005.2 522.7 L1005.8 520.53 L1006.4 523.65 L1007 503.1 L1007.7 520.31 L1008.4 506.3 L1009.1 517.74 L1009.8 522.7 L1010.36 518.57 L1010.92 524.04 L1011.47 521.86 L1012.03 524.04 L1012.59 520.65 L1013.15 521.35 L1013.5 505.8 L1013.85 521.35 L1014.4 522.7 L1015.05 521.53 L1015.7 524.1 L1016.35 521.72 L1016.7 510.4 L1017.05 521.72 L1018 522.7 L1018.52 523.36 L1019.05 520.88 L1019.4 499.9 L1019.75 520.88 L1020.27 519.39 L1020.8 522.7 L1021.45 523.54 L1022.1 523.6 L1022.6 525 L1023.2 522.02 L1023.8 525.49 L1024.4 525.4 L1024.96 524.27 L1025.53 525.61 L1026.09 522.68 L1026.65 521.98 L1027 482.6 L1027.35 521.15 L1028.2 524.5 L1029.05 521.99 L1029.4 493.1 L1029.75 512.79 L1030.3 514.5 L1030.88 521.82 L1031.45 525.72 L1032.02 524.09 L1032.6 514.5 L1033.12 525.14 L1033.65 513.96 L1034 507.7 L1034.35 519.84 L1035.3 520.9 L1035.82 523.81 L1036.33 525.55 L1036.85 520.06 L1037.2 510.4 L1037.55 521.72 L1038.5 522.7 L1039.03 524.33 L1039.55 522.16 L1039.9 515.9 L1040.25 522.98 L1040.78 524.48 L1041.3 523.6 L1042.15 521.26 L1042.5 494.4 L1042.85 521.72 L1043.6 524.1 L1044.22 519.37 L1044.85 523.04 L1045.2 510.8 L1045.55 521.75 L1046.3 522.7 L1047.03 521.27 L1047.75 521.86 L1048.1 512.2 L1048.45 521.86 L1048.97 522.8 L1049.5 522.7 L1050.45 522.19 L1050.8 516.3 L1051.15 523.84 L1051.67 519.34 L1052.2 524.5 L1052.93 523.51 L1053.65 523.88 L1054 516.8 L1054.35 523.52 L1054.88 521.11 L1055.4 524.1 L1056 524.24 L1056.6 525.32 L1057.2 518.1 L1057.88 519.94 L1058.55 515.37 L1058.9 484 L1059.25 512.89 L1060 515.4 L1060.95 514.23 L1061.3 500.8 L1061.65 521.78 L1062.17 518.94 L1062.7 523.6 L1063.25 522.4 L1063.6 508.6 L1063.95 521.57 L1064.7 522.7 L1065.35 519.12 L1065.7 478 L1066.05 501.55 L1066.8 503.6 L1067.4 519.14 L1068 522.7 L1068.55 521.28 L1068.9 504.9 L1069.25 510.33 L1070 510.8 L1070.5 522.7 L1070.5 528.3 L882.5 528.3 Z" fill="url(#gr)"/>
  <path d="M882.5 525.4 L883 525.53 L883.5 525.7 L884 525.41 L884.5 525.68 L885 525.51 L885.5 525.7 L886 525.57 L886.5 525.68 L887 525.47 L887.5 525.73 L888 525.57 L888.5 525.64 L889 525.57 L889.5 525.73 L890 525.45 L890.5 525.58 L891 525.37 L891.5 525.75 L892 525.45 L892.5 525.68 L893 525.55 L893.5 525.57 L894 525.47 L894.5 525.58 L895 525.54 L895.5 525.61 L896 525.56 L896.5 525.64 L897 525.48 L897.5 525.71 L898 525.46 L898.5 525.67 L899 525.46 L899.5 525.67 L900 525.47 L900.5 525.6 L901 525.32 L901.5 525.73 L902 525.36 L902.5 525.67 L903 525.49 L903.5 525.58 L904 525.49 L904.5 525.55 L905 525.37 L905.5 525.61 L906 525.35 L906.5 525.6 L907 525.31 L907.5 525.68 L908 525.53 L908.5 525.57 L909 525.32 L909.5 525.61 L910 525.29 L910.5 525.59 L911 525.51 L911.5 525.63 L912 525.34 L912.5 525.56 L913 525.5 L913.5 525.57 L914 525.28 L914.5 525.65 L915 525.49 L915.5 525.55 L916 525.49 L916.5 525.52 L917 525.32 L917.5 525.53 L918 525.38 L918.5 525.58 L919 525.47 L919.5 525.63 L920 525.48 L920.5 525.61 L921 525.48 L921.5 525.57 L922 525.46 L922.5 525.54 L923 525.24 L923.5 525.63 L924 525.43 L924.5 525.64 L925 525.45 L925.5 525.55 L926 525.27 L926.5 525.59 L927 525.46 L927.5 525.65 L928 525.44 L928.5 525.52 L929 525.28 L929.5 525.53 L930 525.41 L930.5 525.48 L931 525.45 L931.5 525.57 L932 525.42 L932.5 525.57 L933 525.39 L933.5 525.54 L934 525.2 L934.5 525.54 L935 525.32 L935.5 525.61 L936 525.42 L936.5 525.48 L937 525.21 L937.5 525.6 L938 525.4 L938.5 525.48 L939 525.26 L939.5 525.61 L940 525.41 L940.5 525.61 L941 525.2 L941.5 525.55 L942 525.34 L942.5 525.45 L943 525.43 L943.5 525.6 L944 525.39 L944.5 525.56 L945 525.38 L945.5 525.57 L946 525.28 L946.5 525.48 L947 525.39 L947.5 525.55 L948 525.41 L948.5 525.46 L949 525.28 L949.5 525.57 L950 525.26 L950.5 525.46 L951 525.15 L951.5 525.45 L952 525.41 L952.5 525.46 L953 525.3 L953.5 525.41 L954 525.37 L954.5 525.47 L955 525.4 L955.63 523.96 L956.27 524.34 L956.9 523.6 L957.55 522.26 L958.2 518.1 L958.9 519.27 L959.6 522.7 L960.12 518.67 L960.63 523.99 L961.14 520.46 L961.66 523.95 L962.17 523.2 L962.69 523.62 L963.21 523.57 L963.72 524.15 L964.24 520.37 L964.75 521.35 L965.1 505.8 L965.45 521.35 L966.1 522.7 L966.6 518.68 L967.1 523.61 L967.6 520.72 L968.1 523.89 L968.6 520.14 L969.1 523.79 L969.6 512.2 L970.33 518.37 L971.05 509.25 L971.4 475.3 L971.75 518.08 L972.3 521.8 L972.93 523.42 L973.57 523.93 L974.2 520 L974.83 520.03 L975.45 518.39 L975.8 499.9 L976.15 519.22 L976.9 520.9 L977.8 512.7 L978.33 518.91 L978.85 512.26 L979.2 507.2 L979.55 521.46 L980.1 522.7 L980.7 519.96 L981.3 524.02 L981.9 520.9 L982.6 519.57 L983.3 522.7 L983.88 518.73 L984.45 523.81 L985.02 520.24 L985.6 507.2 L986.25 518.79 L986.9 503.6 L987.6 518.97 L988.3 522.7 L989.15 521.72 L989.5 510.4 L989.85 521.72 L990.6 522.7 L991.15 521.8 L991.7 516.3 L992.3 519.46 L992.9 510.4 L993.55 518.94 L994.2 503.6 L994.9 520.85 L995.6 503.6 L996.5 522.7 L997.4 500.8 L997.95 498.58 L998.3 473 L998.65 499.4 L999.5 501.7 L1000.25 500.39 L1000.6 485.3 L1000.95 518.88 L1001.48 520.46 L1002 521.8 L1002.72 521.94 L1003.45 519.21 L1003.8 489.4 L1004.15 520.04 L1004.67 520.71 L1005.2 522.7 L1005.8 520.53 L1006.4 523.65 L1007 503.1 L1007.7 520.31 L1008.4 506.3 L1009.1 517.74 L1009.8 522.7 L1010.36 518.57 L1010.92 524.04 L1011.47 521.86 L1012.03 524.04 L1012.59 520.65 L1013.15 521.35 L1013.5 505.8 L1013.85 521.35 L1014.4 522.7 L1015.05 521.53 L1015.7 524.1 L1016.35 521.72 L1016.7 510.4 L1017.05 521.72 L1018 522.7 L1018.52 523.36 L1019.05 520.88 L1019.4 499.9 L1019.75 520.88 L1020.27 519.39 L1020.8 522.7 L1021.45 523.54 L1022.1 523.6 L1022.6 525 L1023.2 522.02 L1023.8 525.49 L1024.4 525.4 L1024.96 524.27 L1025.53 525.61 L1026.09 522.68 L1026.65 521.98 L1027 482.6 L1027.35 521.15 L1028.2 524.5 L1029.05 521.99 L1029.4 493.1 L1029.75 512.79 L1030.3 514.5 L1030.88 521.82 L1031.45 525.72 L1032.02 524.09 L1032.6 514.5 L1033.12 525.14 L1033.65 513.96 L1034 507.7 L1034.35 519.84 L1035.3 520.9 L1035.82 523.81 L1036.33 525.55 L1036.85 520.06 L1037.2 510.4 L1037.55 521.72 L1038.5 522.7 L1039.03 524.33 L1039.55 522.16 L1039.9 515.9 L1040.25 522.98 L1040.78 524.48 L1041.3 523.6 L1042.15 521.26 L1042.5 494.4 L1042.85 521.72 L1043.6 524.1 L1044.22 519.37 L1044.85 523.04 L1045.2 510.8 L1045.55 521.75 L1046.3 522.7 L1047.03 521.27 L1047.75 521.86 L1048.1 512.2 L1048.45 521.86 L1048.97 522.8 L1049.5 522.7 L1050.45 522.19 L1050.8 516.3 L1051.15 523.84 L1051.67 519.34 L1052.2 524.5 L1052.93 523.51 L1053.65 523.88 L1054 516.8 L1054.35 523.52 L1054.88 521.11 L1055.4 524.1 L1056 524.24 L1056.6 525.32 L1057.2 518.1 L1057.88 519.94 L1058.55 515.37 L1058.9 484 L1059.25 512.89 L1060 515.4 L1060.95 514.23 L1061.3 500.8 L1061.65 521.78 L1062.17 518.94 L1062.7 523.6 L1063.25 522.4 L1063.6 508.6 L1063.95 521.57 L1064.7 522.7 L1065.35 519.12 L1065.7 478 L1066.05 501.55 L1066.8 503.6 L1067.4 519.14 L1068 522.7 L1068.55 521.28 L1068.9 504.9 L1069.25 510.33 L1070 510.8 L1070.5 522.7" fill="none" stroke="#4338ca" stroke-width="1.25" stroke-linejoin="miter" stroke-miterlimit="2"/>
  <path d="M817.8 585.8 L818.6 585.78 L819.41 585.84 L820.21 585.73 L821.02 585.85 L821.82 585.78 L822.63 585.81 L823.43 585.78 L824.24 585.8 L825.04 585.7 L825.85 585.8 L826.65 585.72 L827.46 585.8 L828.26 585.75 L829.07 585.81 L829.87 585.66 L830.67 585.82 L831.48 585.78 L832.28 585.79 L833.09 585.76 L833.89 585.83 L834.7 585.64 L835.5 585.82 L836.31 585.62 L837.11 585.81 L837.92 585.58 L838.72 585.81 L839.53 585.73 L840.33 585.82 L841.13 585.68 L841.94 585.81 L842.74 585.66 L843.55 585.79 L844.35 585.7 L845.16 585.78 L845.96 585.7 L846.77 585.76 L847.57 585.56 L848.38 585.8 L849.18 585.5 L849.99 585.79 L850.79 585.63 L851.6 585.79 L852.4 585.73 L853.2 585.78 L854.01 585.65 L854.81 585.75 L855.62 585.7 L856.42 585.77 L857.23 585.69 L858.03 585.76 L858.84 585.58 L859.64 585.76 L860.45 585.71 L861.25 585.76 L862.06 585.68 L862.86 585.74 L863.67 585.69 L864.47 585.75 L865.27 585.71 L866.08 585.76 L866.88 585.41 L867.69 585.74 L868.49 585.5 L869.3 585.77 L870.1 585.71 L870.91 585.72 L871.71 585.44 L872.52 585.76 L873.32 585.51 L874.13 585.72 L874.93 585.59 L875.73 585.76 L876.54 585.38 L877.34 585.75 L878.15 585.66 L878.95 585.75 L879.76 585.59 L880.56 585.74 L881.37 585.67 L882.17 585.76 L882.98 585.48 L883.78 585.74 L884.59 585.64 L885.39 585.73 L886.2 585.48 L887 585.6 L887.5 583.75 L888 585.6 L888.89 585.46 L889.77 585.71 L890.66 585.38 L891.55 585.7 L892.44 585.59 L893.33 585.69 L894.21 585.39 L895.1 585.6 L895.6 582.75 L896.5 585.5 L897.7 585.5 L898.1 580.6 L898.7 580.6 L899.1 585.5 L899.94 585.64 L900.77 585.71 L901.61 585.65 L902.45 585.79 L903.29 585.42 L904.12 585.77 L904.96 585.65 L905.8 585.5 L906.25 583 L906.7 585.5 L907.51 585.47 L908.33 585.73 L909.14 585.63 L909.95 585.66 L910.77 585.08 L911.58 585.68 L912.39 585.53 L913.21 585.7 L914.02 585.34 L914.83 585.66 L915.65 585.42 L916.46 585.72 L917.27 585.16 L918.09 585.64 L918.9 585.49 L919.71 585.74 L920.53 585.03 L921.34 585.74 L922.15 585.39 L922.97 585.77 L923.78 585.5 L924.59 585.64 L925.41 585.36 L926.22 585.81 L927.03 585.18 L927.85 585.68 L928.66 585.21 L929.47 585.79 L930.29 585.5 L931.1 585.74 L931.91 585.44 L932.73 585.67 L933.54 585.48 L934.35 585.66 L935.17 585.43 L935.98 585.62 L936.79 585.39 L937.61 585.63 L938.42 585.1 L939.23 585.73 L940.05 585.61 L940.86 585.76 L941.67 585.52 L942.49 585.7 L943.3 585.5 L943.75 583 L944.3 585.5 L945.1 585.24 L945.9 585.66 L946.7 585.44 L947.5 585.5 L948 583.75 L948.5 585.5 L949.31 585.32 L950.13 585.62 L950.94 584.92 L951.75 585.61 L952.56 584.95 L953.38 585.63 L954.19 585.41 L955 585.66 L955.81 585.57 L956.63 585.61 L957.44 585.35 L958.25 585.67 L959.07 584.86 L959.88 585.77 L960.69 585.56 L961.5 585.68 L962.32 585.51 L963.13 585.73 L963.94 585.37 L964.75 585.75 L965.57 585.16 L966.38 585.59 L967.19 585.56 L968.01 585.61 L968.82 584.8 L969.63 585.59 L970.44 585.21 L971.26 585.63 L972.07 585.32 L972.88 585.72 L973.69 585.43 L974.51 585.7 L975.32 584.99 L976.13 585.74 L976.95 585.14 L977.76 585.73 L978.57 585.21 L979.38 585.66 L980.2 585.02 L981.01 585.71 L981.82 584.68 L982.63 585.56 L983.45 585.46 L984.26 585.64 L985.07 584.77 L985.89 585.64 L986.7 585.32 L987.51 585.72 L988.32 585.32 L989.14 585.55 L989.95 585.51 L990.76 585.53 L991.57 584.84 L992.39 585.55 L993.2 585.3 L993.75 583 L994.3 585.3 L995.2 584.83 L996.1 585.69 L997 585.3 L997.5 579.4 L998 585.3 L999.05 584.43 L1000.1 585.3 L1000.6 577.25 L1001.8 577.25 L1002.25 581.25 L1002.7 585.3 L1003.56 584.66 L1004.42 585.59 L1005.28 584.9 L1006.14 585.67 L1007 585.3 L1007.5 582.5 L1008 585.3 L1008.81 584.76 L1009.61 585.56 L1010.42 584.69 L1011.22 585.52 L1012.03 585.24 L1012.83 585.69 L1013.64 585.05 L1014.44 585.54 L1015.25 584.63 L1016.06 585.58 L1016.86 585.48 L1017.67 585.49 L1018.47 585.28 L1019.28 585.55 L1020.08 584.37 L1020.89 585.53 L1021.69 584.49 L1022.5 585.3 L1023 582.5 L1023.5 585.3 L1024.5 584.47 L1025.5 585.56 L1026.5 585.3 L1026.9 580 L1027.4 580 L1027.8 585.3 L1028.67 584.22 L1029.54 585.62 L1030.41 584.97 L1031.28 585.52 L1032.15 584.99 L1033.02 585.64 L1033.89 584.89 L1034.76 585.5 L1035.63 585.09 L1036.5 585.3 L1036.9 566 L1037.4 566 L1037.8 585.3 L1038.67 584.95 L1039.53 585.49 L1040.4 584.81 L1041.27 585.45 L1042.13 584.41 L1043 585.3 L1043.5 581.9 L1044 585.3 L1044.85 585.3 L1045.71 585.46 L1046.56 584.76 L1047.42 585.5 L1048.27 584.27 L1049.12 585.53 L1049.98 584.84 L1050.83 585.6 L1051.68 585.24 L1052.54 585.58 L1053.39 584.63 L1054.25 585.51 L1055.1 585.3 L1055.6 581.9 L1056.7 585.3 L1057.25 576.5 L1057.8 585.3 L1058.6 584.07 L1059.4 585.42 L1060.2 585.3 L1060.6 570 L1060.88 579 L1061.16 570.5 L1061.44 584 L1061.72 570 L1062 581 L1062.28 571 L1062.56 583 L1062.84 570 L1063.12 578 L1063.5 585.3 L1064.4 584.2 L1065.3 585.44 L1066.2 584.23 L1067.1 585.44 L1068 585.3 L1068.5 578.75 L1069 585 L1070.6 583 L1070.6 588.5 L817.8 588.5 Z" fill="url(#gr)"/>
  <path d="M817.8 585.8 L818.6 585.78 L819.41 585.84 L820.21 585.73 L821.02 585.85 L821.82 585.78 L822.63 585.81 L823.43 585.78 L824.24 585.8 L825.04 585.7 L825.85 585.8 L826.65 585.72 L827.46 585.8 L828.26 585.75 L829.07 585.81 L829.87 585.66 L830.67 585.82 L831.48 585.78 L832.28 585.79 L833.09 585.76 L833.89 585.83 L834.7 585.64 L835.5 585.82 L836.31 585.62 L837.11 585.81 L837.92 585.58 L838.72 585.81 L839.53 585.73 L840.33 585.82 L841.13 585.68 L841.94 585.81 L842.74 585.66 L843.55 585.79 L844.35 585.7 L845.16 585.78 L845.96 585.7 L846.77 585.76 L847.57 585.56 L848.38 585.8 L849.18 585.5 L849.99 585.79 L850.79 585.63 L851.6 585.79 L852.4 585.73 L853.2 585.78 L854.01 585.65 L854.81 585.75 L855.62 585.7 L856.42 585.77 L857.23 585.69 L858.03 585.76 L858.84 585.58 L859.64 585.76 L860.45 585.71 L861.25 585.76 L862.06 585.68 L862.86 585.74 L863.67 585.69 L864.47 585.75 L865.27 585.71 L866.08 585.76 L866.88 585.41 L867.69 585.74 L868.49 585.5 L869.3 585.77 L870.1 585.71 L870.91 585.72 L871.71 585.44 L872.52 585.76 L873.32 585.51 L874.13 585.72 L874.93 585.59 L875.73 585.76 L876.54 585.38 L877.34 585.75 L878.15 585.66 L878.95 585.75 L879.76 585.59 L880.56 585.74 L881.37 585.67 L882.17 585.76 L882.98 585.48 L883.78 585.74 L884.59 585.64 L885.39 585.73 L886.2 585.48 L887 585.6 L887.5 583.75 L888 585.6 L888.89 585.46 L889.77 585.71 L890.66 585.38 L891.55 585.7 L892.44 585.59 L893.33 585.69 L894.21 585.39 L895.1 585.6 L895.6 582.75 L896.5 585.5 L897.7 585.5 L898.1 580.6 L898.7 580.6 L899.1 585.5 L899.94 585.64 L900.77 585.71 L901.61 585.65 L902.45 585.79 L903.29 585.42 L904.12 585.77 L904.96 585.65 L905.8 585.5 L906.25 583 L906.7 585.5 L907.51 585.47 L908.33 585.73 L909.14 585.63 L909.95 585.66 L910.77 585.08 L911.58 585.68 L912.39 585.53 L913.21 585.7 L914.02 585.34 L914.83 585.66 L915.65 585.42 L916.46 585.72 L917.27 585.16 L918.09 585.64 L918.9 585.49 L919.71 585.74 L920.53 585.03 L921.34 585.74 L922.15 585.39 L922.97 585.77 L923.78 585.5 L924.59 585.64 L925.41 585.36 L926.22 585.81 L927.03 585.18 L927.85 585.68 L928.66 585.21 L929.47 585.79 L930.29 585.5 L931.1 585.74 L931.91 585.44 L932.73 585.67 L933.54 585.48 L934.35 585.66 L935.17 585.43 L935.98 585.62 L936.79 585.39 L937.61 585.63 L938.42 585.1 L939.23 585.73 L940.05 585.61 L940.86 585.76 L941.67 585.52 L942.49 585.7 L943.3 585.5 L943.75 583 L944.3 585.5 L945.1 585.24 L945.9 585.66 L946.7 585.44 L947.5 585.5 L948 583.75 L948.5 585.5 L949.31 585.32 L950.13 585.62 L950.94 584.92 L951.75 585.61 L952.56 584.95 L953.38 585.63 L954.19 585.41 L955 585.66 L955.81 585.57 L956.63 585.61 L957.44 585.35 L958.25 585.67 L959.07 584.86 L959.88 585.77 L960.69 585.56 L961.5 585.68 L962.32 585.51 L963.13 585.73 L963.94 585.37 L964.75 585.75 L965.57 585.16 L966.38 585.59 L967.19 585.56 L968.01 585.61 L968.82 584.8 L969.63 585.59 L970.44 585.21 L971.26 585.63 L972.07 585.32 L972.88 585.72 L973.69 585.43 L974.51 585.7 L975.32 584.99 L976.13 585.74 L976.95 585.14 L977.76 585.73 L978.57 585.21 L979.38 585.66 L980.2 585.02 L981.01 585.71 L981.82 584.68 L982.63 585.56 L983.45 585.46 L984.26 585.64 L985.07 584.77 L985.89 585.64 L986.7 585.32 L987.51 585.72 L988.32 585.32 L989.14 585.55 L989.95 585.51 L990.76 585.53 L991.57 584.84 L992.39 585.55 L993.2 585.3 L993.75 583 L994.3 585.3 L995.2 584.83 L996.1 585.69 L997 585.3 L997.5 579.4 L998 585.3 L999.05 584.43 L1000.1 585.3 L1000.6 577.25 L1001.8 577.25 L1002.25 581.25 L1002.7 585.3 L1003.56 584.66 L1004.42 585.59 L1005.28 584.9 L1006.14 585.67 L1007 585.3 L1007.5 582.5 L1008 585.3 L1008.81 584.76 L1009.61 585.56 L1010.42 584.69 L1011.22 585.52 L1012.03 585.24 L1012.83 585.69 L1013.64 585.05 L1014.44 585.54 L1015.25 584.63 L1016.06 585.58 L1016.86 585.48 L1017.67 585.49 L1018.47 585.28 L1019.28 585.55 L1020.08 584.37 L1020.89 585.53 L1021.69 584.49 L1022.5 585.3 L1023 582.5 L1023.5 585.3 L1024.5 584.47 L1025.5 585.56 L1026.5 585.3 L1026.9 580 L1027.4 580 L1027.8 585.3 L1028.67 584.22 L1029.54 585.62 L1030.41 584.97 L1031.28 585.52 L1032.15 584.99 L1033.02 585.64 L1033.89 584.89 L1034.76 585.5 L1035.63 585.09 L1036.5 585.3 L1036.9 566 L1037.4 566 L1037.8 585.3 L1038.67 584.95 L1039.53 585.49 L1040.4 584.81 L1041.27 585.45 L1042.13 584.41 L1043 585.3 L1043.5 581.9 L1044 585.3 L1044.85 585.3 L1045.71 585.46 L1046.56 584.76 L1047.42 585.5 L1048.27 584.27 L1049.12 585.53 L1049.98 584.84 L1050.83 585.6 L1051.68 585.24 L1052.54 585.58 L1053.39 584.63 L1054.25 585.51 L1055.1 585.3 L1055.6 581.9 L1056.7 585.3 L1057.25 576.5 L1057.8 585.3 L1058.6 584.07 L1059.4 585.42 L1060.2 585.3 L1060.6 570 L1060.88 579 L1061.16 570.5 L1061.44 584 L1061.72 570 L1062 581 L1062.28 571 L1062.56 583 L1062.84 570 L1063.12 578 L1063.5 585.3 L1064.4 584.2 L1065.3 585.44 L1066.2 584.23 L1067.1 585.44 L1068 585.3 L1068.5 578.75 L1069 585 L1070.6 583" fill="none" stroke="#4338ca" stroke-width="1.1" stroke-linejoin="miter" stroke-miterlimit="2"/>
  <path d="M817.8 646 L818.6 645.95 L819.41 646.05 L820.21 645.89 L821.02 646.01 L821.82 645.91 L822.63 646.04 L823.43 645.92 L824.24 646 L825.04 645.99 L825.85 646.02 L826.65 645.9 L827.46 646.01 L828.26 645.93 L829.07 646.01 L829.87 645.86 L830.67 646.05 L831.48 645.94 L832.28 646.05 L833.09 645.98 L833.89 646.04 L834.7 645.83 L835.5 646 L836.31 645.87 L837.11 646.02 L837.92 645.8 L838.72 646 L839.53 645.89 L840.33 646.04 L841.13 645.86 L841.94 646 L842.74 645.97 L843.55 646.04 L844.35 645.89 L845.16 646.04 L845.96 645.96 L846.77 646.03 L847.57 645.79 L848.38 646.03 L849.18 645.97 L849.99 646 L850.79 645.97 L851.6 646.02 L852.4 645.9 L853.2 646.03 L854.01 645.89 L854.81 646.02 L855.62 645.74 L856.42 645.98 L857.23 645.83 L858.03 646.03 L858.84 645.84 L859.64 645.99 L860.45 645.91 L861.25 646.01 L862.06 645.93 L862.86 646 L863.67 645.81 L864.47 646 L865.27 645.94 L866.08 646 L866.88 645.66 L867.69 645.98 L868.49 645.88 L869.3 646.01 L870.1 645.79 L870.91 645.97 L871.71 645.96 L872.52 646 L873.32 645.86 L874.13 645.98 L874.93 645.89 L875.73 645.99 L876.54 645.7 L877.34 645.97 L878.15 645.94 L878.95 646.01 L879.76 645.6 L880.56 645.95 L881.37 645.76 L882.17 645.99 L882.98 645.82 L883.78 645.99 L884.59 645.54 L885.39 645.98 L886.2 645.82 L887 645.8 L887.5 644.4 L888 645.8 L888.81 645.89 L889.62 645.96 L890.44 645.9 L891.25 645.95 L892.06 645.88 L892.88 645.99 L893.69 645.73 L894.5 645.8 L895 643.75 L895.5 645.8 L896.5 645.56 L897.5 646.12 L898.5 645.8 L899 644 L899.5 645.8 L900.34 645.54 L901.19 645.94 L902.03 645.46 L902.88 645.95 L903.72 645.55 L904.56 646.1 L905.41 645.61 L906.25 646.01 L907.09 645.91 L907.94 645.95 L908.78 645.61 L909.62 645.98 L910.47 645.67 L911.31 645.98 L912.16 645.87 L913 645.8 L913.5 643.75 L914 645.8 L914.85 645.8 L915.7 646.07 L916.55 645.68 L917.4 645.8 L917.75 630 L918.3 630 L918.7 645.8 L919.75 645.73 L920.8 645.8 L921.25 642.25 L921.8 645.8 L922.63 645.66 L923.46 646.03 L924.3 645.64 L925.13 646 L925.96 645.28 L926.79 646.06 L927.62 645.81 L928.45 645.98 L929.29 645.83 L930.12 645.98 L930.95 645.9 L931.78 646.06 L932.61 645.57 L933.45 645.99 L934.28 645.29 L935.11 645.97 L935.94 645.55 L936.77 646.09 L937.6 645.56 L938.44 646.03 L939.27 645.7 L940.1 645.8 L940.6 643.1 L941.2 645.8 L942.03 645.15 L942.85 646.05 L943.67 645.74 L944.5 645.8 L945 644.4 L945.5 645.8 L946.31 645.69 L947.12 646.02 L947.94 645.56 L948.75 646 L949.56 645.8 L950.38 646.01 L951.19 645.38 L952 646.05 L952.81 645.6 L953.62 645.98 L954.44 645.55 L955.25 646 L956.06 645.57 L956.88 645.89 L957.69 645.74 L958.5 646.09 L959.31 645.22 L960.12 645.98 L960.94 645.29 L961.75 645.93 L962.56 645.73 L963.38 645.99 L964.19 645.33 L965 645.8 L965.6 640 L966.5 641 L967 645.8 L967.83 645.87 L968.67 645.98 L969.5 645.8 L970 643.75 L970.5 645.8 L971.4 645.06 L972.3 645.8 L972.75 643.5 L973.2 645.8 L974.05 645.38 L974.89 646.07 L975.74 645.83 L976.59 646.06 L977.44 645.11 L978.28 645.88 L979.13 645.44 L979.98 646.02 L980.82 645.73 L981.67 646 L982.52 645.07 L983.36 646.03 L984.21 645.54 L985.06 645.88 L985.91 645.41 L986.75 645.9 L987.6 645.8 L988.1 639.75 L988.6 645.8 L989.4 645.4 L990.2 645.92 L991 645.6 L991.8 645.97 L992.6 645.8 L993.1 643.1 L993.6 645.8 L994.43 645.04 L995.26 646.05 L996.09 645.53 L996.91 645.86 L997.74 645.12 L998.57 645.93 L999.4 645.8 L999.75 637.5 L1000.2 637.5 L1000.6 645.8 L1001.44 645.09 L1002.28 646.02 L1003.12 645.84 L1003.96 646 L1004.8 645.63 L1005.64 645.92 L1006.48 645.58 L1007.32 645.96 L1008.16 645.67 L1009 645.95 L1009.84 645.63 L1010.68 645.87 L1011.52 645.66 L1012.36 645.98 L1013.2 645.8 L1013.75 639.4 L1014.6 643 L1015.2 611.25 L1015.7 611.25 L1016.2 645.8 L1017.04 645.58 L1017.88 645.88 L1018.72 645.52 L1019.56 645.88 L1020.4 644.66 L1021.24 646 L1022.08 645.73 L1022.92 645.9 L1023.76 645.42 L1024.6 645.94 L1025.44 645.47 L1026.28 645.94 L1027.12 644.96 L1027.96 645.86 L1028.8 645.24 L1029.64 645.87 L1030.48 645.27 L1031.32 645.89 L1032.16 644.87 L1033 645.8 L1033.5 642.5 L1034 645.8 L1034.81 644.73 L1035.63 646.02 L1036.44 645.42 L1037.25 645.95 L1038.06 645.7 L1038.88 645.97 L1039.69 644.87 L1040.5 645.91 L1041.32 645.52 L1042.13 645.97 L1042.94 644.9 L1043.75 645.98 L1044.57 645.55 L1045.38 645.87 L1046.19 645.6 L1047.01 645.86 L1047.82 645.82 L1048.63 645.84 L1049.44 645.27 L1050.26 645.9 L1051.07 644.63 L1051.88 645.89 L1052.69 645.67 L1053.51 646 L1054.32 645.77 L1055.13 645.88 L1055.95 644.82 L1056.76 645.88 L1057.57 644.45 L1058.38 645.96 L1059.2 645.5 L1060.01 645.98 L1060.82 644.51 L1061.64 645.91 L1062.45 645.69 L1063.26 645.83 L1064.07 644.68 L1064.89 645.98 L1065.7 645.8 L1066.25 640.6 L1066.8 645.8 L1067.75 644.95 L1068.7 645.96 L1069.65 644.7 L1070.6 644.4 L1070.6 648.2 L817.8 648.2 Z" fill="url(#gr)"/>
  <path d="M817.8 646 L818.6 645.95 L819.41 646.05 L820.21 645.89 L821.02 646.01 L821.82 645.91 L822.63 646.04 L823.43 645.92 L824.24 646 L825.04 645.99 L825.85 646.02 L826.65 645.9 L827.46 646.01 L828.26 645.93 L829.07 646.01 L829.87 645.86 L830.67 646.05 L831.48 645.94 L832.28 646.05 L833.09 645.98 L833.89 646.04 L834.7 645.83 L835.5 646 L836.31 645.87 L837.11 646.02 L837.92 645.8 L838.72 646 L839.53 645.89 L840.33 646.04 L841.13 645.86 L841.94 646 L842.74 645.97 L843.55 646.04 L844.35 645.89 L845.16 646.04 L845.96 645.96 L846.77 646.03 L847.57 645.79 L848.38 646.03 L849.18 645.97 L849.99 646 L850.79 645.97 L851.6 646.02 L852.4 645.9 L853.2 646.03 L854.01 645.89 L854.81 646.02 L855.62 645.74 L856.42 645.98 L857.23 645.83 L858.03 646.03 L858.84 645.84 L859.64 645.99 L860.45 645.91 L861.25 646.01 L862.06 645.93 L862.86 646 L863.67 645.81 L864.47 646 L865.27 645.94 L866.08 646 L866.88 645.66 L867.69 645.98 L868.49 645.88 L869.3 646.01 L870.1 645.79 L870.91 645.97 L871.71 645.96 L872.52 646 L873.32 645.86 L874.13 645.98 L874.93 645.89 L875.73 645.99 L876.54 645.7 L877.34 645.97 L878.15 645.94 L878.95 646.01 L879.76 645.6 L880.56 645.95 L881.37 645.76 L882.17 645.99 L882.98 645.82 L883.78 645.99 L884.59 645.54 L885.39 645.98 L886.2 645.82 L887 645.8 L887.5 644.4 L888 645.8 L888.81 645.89 L889.62 645.96 L890.44 645.9 L891.25 645.95 L892.06 645.88 L892.88 645.99 L893.69 645.73 L894.5 645.8 L895 643.75 L895.5 645.8 L896.5 645.56 L897.5 646.12 L898.5 645.8 L899 644 L899.5 645.8 L900.34 645.54 L901.19 645.94 L902.03 645.46 L902.88 645.95 L903.72 645.55 L904.56 646.1 L905.41 645.61 L906.25 646.01 L907.09 645.91 L907.94 645.95 L908.78 645.61 L909.62 645.98 L910.47 645.67 L911.31 645.98 L912.16 645.87 L913 645.8 L913.5 643.75 L914 645.8 L914.85 645.8 L915.7 646.07 L916.55 645.68 L917.4 645.8 L917.75 630 L918.3 630 L918.7 645.8 L919.75 645.73 L920.8 645.8 L921.25 642.25 L921.8 645.8 L922.63 645.66 L923.46 646.03 L924.3 645.64 L925.13 646 L925.96 645.28 L926.79 646.06 L927.62 645.81 L928.45 645.98 L929.29 645.83 L930.12 645.98 L930.95 645.9 L931.78 646.06 L932.61 645.57 L933.45 645.99 L934.28 645.29 L935.11 645.97 L935.94 645.55 L936.77 646.09 L937.6 645.56 L938.44 646.03 L939.27 645.7 L940.1 645.8 L940.6 643.1 L941.2 645.8 L942.03 645.15 L942.85 646.05 L943.67 645.74 L944.5 645.8 L945 644.4 L945.5 645.8 L946.31 645.69 L947.12 646.02 L947.94 645.56 L948.75 646 L949.56 645.8 L950.38 646.01 L951.19 645.38 L952 646.05 L952.81 645.6 L953.62 645.98 L954.44 645.55 L955.25 646 L956.06 645.57 L956.88 645.89 L957.69 645.74 L958.5 646.09 L959.31 645.22 L960.12 645.98 L960.94 645.29 L961.75 645.93 L962.56 645.73 L963.38 645.99 L964.19 645.33 L965 645.8 L965.6 640 L966.5 641 L967 645.8 L967.83 645.87 L968.67 645.98 L969.5 645.8 L970 643.75 L970.5 645.8 L971.4 645.06 L972.3 645.8 L972.75 643.5 L973.2 645.8 L974.05 645.38 L974.89 646.07 L975.74 645.83 L976.59 646.06 L977.44 645.11 L978.28 645.88 L979.13 645.44 L979.98 646.02 L980.82 645.73 L981.67 646 L982.52 645.07 L983.36 646.03 L984.21 645.54 L985.06 645.88 L985.91 645.41 L986.75 645.9 L987.6 645.8 L988.1 639.75 L988.6 645.8 L989.4 645.4 L990.2 645.92 L991 645.6 L991.8 645.97 L992.6 645.8 L993.1 643.1 L993.6 645.8 L994.43 645.04 L995.26 646.05 L996.09 645.53 L996.91 645.86 L997.74 645.12 L998.57 645.93 L999.4 645.8 L999.75 637.5 L1000.2 637.5 L1000.6 645.8 L1001.44 645.09 L1002.28 646.02 L1003.12 645.84 L1003.96 646 L1004.8 645.63 L1005.64 645.92 L1006.48 645.58 L1007.32 645.96 L1008.16 645.67 L1009 645.95 L1009.84 645.63 L1010.68 645.87 L1011.52 645.66 L1012.36 645.98 L1013.2 645.8 L1013.75 639.4 L1014.6 643 L1015.2 611.25 L1015.7 611.25 L1016.2 645.8 L1017.04 645.58 L1017.88 645.88 L1018.72 645.52 L1019.56 645.88 L1020.4 644.66 L1021.24 646 L1022.08 645.73 L1022.92 645.9 L1023.76 645.42 L1024.6 645.94 L1025.44 645.47 L1026.28 645.94 L1027.12 644.96 L1027.96 645.86 L1028.8 645.24 L1029.64 645.87 L1030.48 645.27 L1031.32 645.89 L1032.16 644.87 L1033 645.8 L1033.5 642.5 L1034 645.8 L1034.81 644.73 L1035.63 646.02 L1036.44 645.42 L1037.25 645.95 L1038.06 645.7 L1038.88 645.97 L1039.69 644.87 L1040.5 645.91 L1041.32 645.52 L1042.13 645.97 L1042.94 644.9 L1043.75 645.98 L1044.57 645.55 L1045.38 645.87 L1046.19 645.6 L1047.01 645.86 L1047.82 645.82 L1048.63 645.84 L1049.44 645.27 L1050.26 645.9 L1051.07 644.63 L1051.88 645.89 L1052.69 645.67 L1053.51 646 L1054.32 645.77 L1055.13 645.88 L1055.95 644.82 L1056.76 645.88 L1057.57 644.45 L1058.38 645.96 L1059.2 645.5 L1060.01 645.98 L1060.82 644.51 L1061.64 645.91 L1062.45 645.69 L1063.26 645.83 L1064.07 644.68 L1064.89 645.98 L1065.7 645.8 L1066.25 640.6 L1066.8 645.8 L1067.75 644.95 L1068.7 645.96 L1069.65 644.7 L1070.6 644.4" fill="none" stroke="#4338ca" stroke-width="1.1" stroke-linejoin="miter" stroke-miterlimit="2"/>

  <!-- cube icon models header -->
  <g id="cube">
    <path d="M64.9 48.9 L72 52.8 L65.1 55.4 L58.8 52.8 Z" fill="#cfcdf8"/>
    <path d="M58.8 52.8 L65.1 55.4 L65.1 63.6 L58.8 59.7 Z" fill="#a6a1f1"/>
    <path d="M65.1 55.4 L72 52.8 L72 59.8 L65.1 63.6 Z" fill="#4f46e5"/>
  </g>
  <!-- database icon -->
  <g>
    <path d="M591 51 L603 51 L603 61.2 Q603 63.4 597 63.4 Q591 63.4 591 61.2 Z" fill="#f29a9a"/>
    <ellipse cx="597" cy="51.2" rx="6" ry="2.2" fill="#f6b3b3"/>
    <path d="M591 55.6 Q597 58.4 603 55.6 L603 57 Q597 59.8 591 57 Z" fill="#dc2626"/>
  </g>
  <!-- info icons -->
  <g fill="none" stroke="#9ca3af" stroke-width="1">
    <circle cx="463.8" cy="56.2" r="6"/>
    <circle cx="1004.8" cy="56.2" r="6"/>
  </g>
  <g fill="#9ca3af">
    <rect x="463.2" y="52.8" width="1.3" height="1.1"/>
    <rect x="463.3" y="55" width="1.1" height="4.2"/>
    <rect x="462" y="58.9" width="3.8" height="0.9"/>
    <rect x="1004.2" y="52.8" width="1.3" height="1.1"/>
    <rect x="1004.3" y="55" width="1.1" height="4.2"/>
    <rect x="1003" y="58.9" width="3.8" height="0.9"/>
  </g>
</svg>

<!-- card headers -->
<div class="a b" style="left:81.7px;top:48.1px;font-size:17.44px;transform:scaleX(0.954);transform-origin:left center;color:#4f46e5;">Models</div>
<div class="a" style="left:146.8px;top:47.6px;font-size:17px;transform:scaleX(0.95);transform-origin:left center;color:#9ca3af;">(187)</div>
<div class="a b" style="right:591.7px;top:48.2px;font-size:17.34px;transform:scaleX(0.99);transform-origin:right center;color:#334155;">22.1M</div>

<div class="a b" style="left:613px;top:48.1px;font-size:17.44px;transform:scaleX(0.96);transform-origin:left center;color:#dc2626;">Datasets</div>
<div class="a" style="left:690px;top:47.6px;font-size:17px;transform:scaleX(0.95);transform-origin:left center;color:#9ca3af;">(15)</div>
<div class="a b" style="right:60.4px;top:47.55px;font-size:17.07px;color:#334155;">386k</div>

<!-- section title -->
<div class="a b" style="left:35.8px;top:319.9px;font-size:19.48px;transform:scaleX(0.984);transform-origin:left center;color:#000;">Per-repo breakdown</div>

<!-- filter input -->
<div style="position:absolute;left:36px;top:374px;width:299px;height:27px;border:1px solid #e5e7eb;border-radius:20px;background:#fff;"></div>
<svg width="1120" height="680" style="pointer-events:none">
  <circle cx="51.2" cy="387.4" r="4.5" fill="none" stroke="#6b7280" stroke-width="1.1"/>
  <path d="M54.5 390.6 L57.6 393.9" stroke="#6b7280" stroke-width="1.2" stroke-linecap="round"/>
</svg>
<div class="a" style="left:64.9px;top:380.83px;font-size:15.55px;transform:scaleX(0.999);transform-origin:left center;color:#9ca3af;">Filter by repo name</div>

<!-- download button -->
<div style="position:absolute;left:908px;top:373.5px;width:170px;height:28px;border:1px solid #e5e7eb;border-radius:8px;background:linear-gradient(180deg,#ffffff,#f3f4f6);"></div>
<svg width="1120" height="680" style="pointer-events:none">
  <path d="M925 382.2 L925 390.8 M921 387.3 L925 391 L929.1 387.3 M920.4 392.1 L920.4 394.2 L929.8 394.2 L929.8 392.1" fill="none" stroke="#374151" stroke-width="1.2" stroke-linecap="round" stroke-linejoin="round"/>
</svg>
<div class="a" style="left:939.4px;top:380.34px;font-size:16.13px;transform:scaleX(0.916);transform-origin:left center;color:#1f2937;">Download as JSON</div>

<!-- table header -->
<div class="a b" style="left:37px;top:438.9px;font-size:18.46px;transform:scaleX(0.901);transform-origin:left center;color:#000;">Repo Type</div>
<div class="a b" style="left:163.1px;top:438.9px;font-size:18.46px;transform:scaleX(0.906);transform-origin:left center;color:#000;">Repo Name</div>
<div class="a b" style="left:643.4px;top:438.9px;font-size:18.46px;transform:scaleX(0.904);transform-origin:left center;color:#000;">Total Downloads</div>
<div class="a b" style="right:48.9px;top:438.9px;font-size:18.46px;transform:scaleX(0.924);transform-origin:right center;color:#000;">Time evolution</div>
<svg width="1120" height="680" style="pointer-events:none">
  <g fill="none" stroke="#d1d5db" stroke-width="1" stroke-linecap="round" stroke-linejoin="round">
    <path d="M134.2 444.6 L138 440.7 L141.9 444.6 M134.2 450.2 L138 453.6 L141.9 450.2"/>
    <path d="M268.2 444.6 L272 440.7 L275.9 444.6 M268.2 450.2 L272 453.6 L275.9 450.2"/>
    <path d="M789.2 444.6 L793 440.7 L796.9 444.6 M789.2 450.2 L793 453.6 L796.9 450.2"/>
  </g>
</svg>

<!-- rows -->
<div class="sep" style="top:530px;"></div>
<div class="sep" style="top:590px;"></div>
<div class="sep" style="top:650px;"></div>

<svg width="1120" height="680" style="pointer-events:none">
  <g transform="translate(-19.6,444.5)"><use href="#cube"/></g>
  <g transform="translate(-19.6,504.5)"><use href="#cube"/></g>
  <g transform="translate(-19.6,564.5)"><use href="#cube"/></g>
</svg>

<div class="a" style="left:63.7px;top:492.8px;font-size:17.73px;transform:scaleX(0.954);transform-origin:left center;color:#111827;">Model</div>
<div class="a" style="left:63.7px;top:552.8px;font-size:17.73px;transform:scaleX(0.954);transform-origin:left center;color:#111827;">Model</div>
<div class="a" style="left:63.7px;top:612.8px;font-size:17.73px;transform:scaleX(0.954);transform-origin:left center;color:#111827;">Model</div>

<div class="a mono" style="left:163px;top:494.7px;font-size:16.45px;color:#111827;">acme/llama-vision-3B</div>
<div class="a mono" style="left:163px;top:554.7px;font-size:16.45px;color:#111827;">acme/llama-32B-instruct</div>
<div class="a mono" style="left:163px;top:614.7px;font-size:16.45px;color:#111827;">acme/llama-1B-instruct</div>
<div style="position:absolute;left:163px;top:510px;width:197.4px;height:1.2px;background:#374151;"></div>
<div style="position:absolute;left:163px;top:570px;width:227px;height:1.2px;background:#374151;"></div>
<div style="position:absolute;left:163px;top:630px;width:217.1px;height:1.2px;background:#374151;"></div>

<div class="a" style="left:641.8px;top:493.5px;font-size:16.86px;transform:scaleX(0.923);transform-origin:left center;color:#111827;">10.5M</div>
<div class="a" style="left:641.8px;top:553.5px;font-size:16.86px;transform:scaleX(0.923);transform-origin:left center;color:#111827;">1.95M</div>
<div class="a" style="left:641.8px;top:613.5px;font-size:16.86px;transform:scaleX(0.923);transform-origin:left center;color:#111827;">1.75M</div>

</body>
</html>
